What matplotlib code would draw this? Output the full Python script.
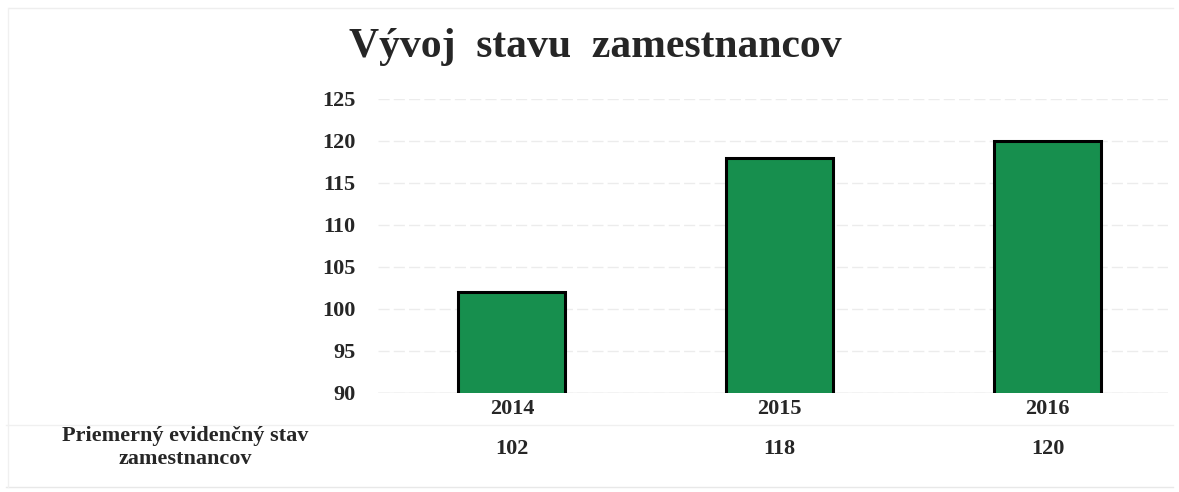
import numpy as np
import matplotlib.pyplot as plt

roky = ['2014', '2015', '2016']
zamestnanci = [102, 118, 120]
y_ticks = [90, 95, 100, 105, 110, 115, 120, 125]
riadok_nazov = 'Priemerný evidenčný stav\nzamestnancov'

plt.rcParams['font.family'] = ['Liberation Serif', 'DejaVu Serif']
farba_text = '#262626'

fig = plt.figure(figsize=(11.79, 4.92), dpi=100)
ax = fig.add_axes([378 / 1179, 1 - 393 / 492, 790 / 1179, 294 / 492])

x = np.arange(len(roky))
ax.bar(x, zamestnanci, width=0.4, bottom=0, color='#178f4e',
       edgecolor='black', linewidth=2.2, zorder=3)

ax.set_ylim(90, 125)
ax.set_xlim(-0.5, 2.45)
ax.set_yticks(y_ticks)
ax.set_yticklabels([str(t) for t in y_ticks], fontsize=16, fontweight='bold',
                   color=farba_text)
ax.set_xticks(x)
ax.set_xticklabels(roky, fontsize=16, fontweight='bold', color=farba_text)
ax.tick_params(axis='both', length=0, pad=4)
ax.tick_params(axis='y', pad=16)
ax.grid(axis='y', color='#ececec', linewidth=1, linestyle=(0, (8, 3)), zorder=0)
for s in ax.spines.values():
    s.set_visible(False)
ax.axhline(90, color='#d6d6d6', linewidth=1, zorder=2)

# tabulka pod grafom
for xi, v in zip(x, zamestnanci):
    ax.text(xi, -0.19, str(v), transform=ax.get_xaxis_transform(),
            ha='center', va='center', fontsize=16, fontweight='bold',
            color=farba_text)
fig.text(185 / 1179, 1 - 448 / 492, riadok_nazov, ha='center', va='center',
         fontsize=16, fontweight='bold', color=farba_text, linespacing=1.2)

# slabe ciary (okraj naskenovanej tabulky)
fig.add_artist(plt.Line2D([0.005, 0.995], [1 - 425 / 492] * 2,
                          color='#f0f0f0', linewidth=1))
fig.add_artist(plt.Line2D([0.005, 0.995], [1 - 487 / 492] * 2,
                          color='#e8e8e8', linewidth=1))
fig.add_artist(plt.Line2D([0.008, 0.995], [1 - 8 / 492] * 2,
                          color='#eeeeee', linewidth=1))
fig.add_artist(plt.Line2D([8 / 1179] * 2, [1 - 8 / 492, 1 - 487 / 492],
                          color='#f0f0f0', linewidth=1))

fig.text(595 / 1179, 1 - 47 / 492, 'Vývoj  stavu  zamestnancov', ha='center',
         va='center', fontsize=30, fontweight='bold', color=farba_text)

fig.savefig('out.png', dpi=100, facecolor='white')
